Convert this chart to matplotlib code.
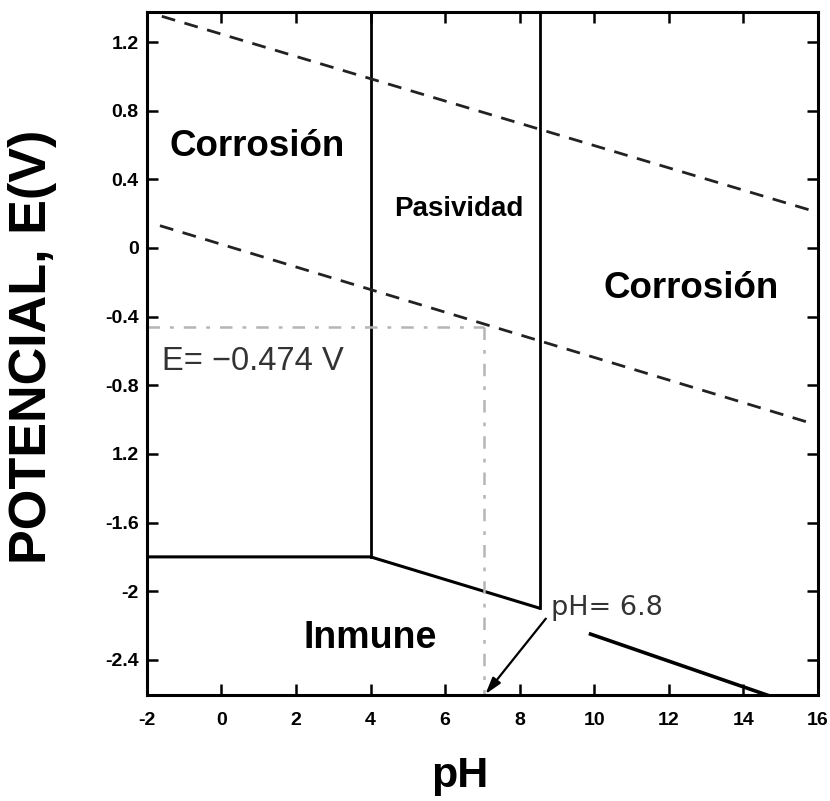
import matplotlib
matplotlib.use("Agg")
import matplotlib.pyplot as plt

plt.rcParams['font.family'] = ['Liberation Sans', 'DejaVu Sans']

# ---- data ----
ph_ticks = [-2, 0, 2, 4, 6, 8, 10, 12, 14, 16]
ph_tick_labels = ['-2', '0', '2', '4', '6', '8', '10', '12', '14', '16']
e_ticks = [1.2, 0.8, 0.4, 0, -0.4, -0.8, -1.2, -1.6, -2, -2.4]
e_tick_labels = ['1.2', '0.8', '0.4', '0', '-0.4', '-0.8', '1.2', '-1.6', '-2', '-2.4']

xlim = (-2, 16)
ylim = (-2.605, 1.375)

# Zn / Zn2+ / Zn(OH)2 boundary
lower_ph = [-2, 4.0, 8.55]
lower_e = [-1.8, -1.8, -2.1]
# vertical boundaries (pH, E bottom)
vert_ph = [4.0, 8.55]
vert_e_bottom = [-1.8, -2.1]
# lower-right boundary
right_ph = [9.9, 14.7]
right_e = [-2.25, -2.61]
# water stability lines
water_up_ph = [-1.6, 15.8]
water_up_e = [1.35, 0.22]
water_low_ph = [-1.65, 15.8]
water_low_e = [0.13, -1.02]
# marked point
mark_ph = 7.05
mark_e = -0.46
# arrow
arrow_start = (8.7, -2.16)
arrow_end = (7.08, -2.6)

fig = plt.figure(figsize=(8.30, 8.01), dpi=100)
ax = fig.add_axes([0.177, 0.1323, 0.8085, 0.8527])
ax.set_xlim(*xlim)
ax.set_ylim(*ylim)

# region boundaries
ax.plot(lower_ph, lower_e, color='black', lw=2.2, solid_capstyle='butt')
for p, eb in zip(vert_ph, vert_e_bottom):
    ax.plot([p, p], [eb, ylim[1]], color='black', lw=2.0)
ax.plot(right_ph, right_e, color='black', lw=2.6)

# water lines
ax.plot(water_up_ph, water_up_e, color='#222222', lw=2.0, linestyle=(0, (5, 3.5)))
ax.plot(water_low_ph, water_low_e, color='#222222', lw=2.0, linestyle=(0, (5, 3.5)))

# marker lines (gray dash-dot)
ax.plot([xlim[0], mark_ph], [mark_e, mark_e], color='#b5b5b5', lw=1.8,
        linestyle=(0, (5, 4, 1.5, 4)))
ax.plot([mark_ph, mark_ph], [mark_e, ylim[0]], color='#b5b5b5', lw=1.8,
        linestyle=(0, (5, 4, 1.5, 4)))

# arrow
ax.annotate('', xy=arrow_end, xytext=arrow_start,
            arrowprops=dict(arrowstyle='-|>,head_length=1.0,head_width=0.3',
                            color='black', lw=1.6, shrinkA=0, shrinkB=0))

# texts
ax.text(0.95, 0.59, 'Corrosión', fontsize=26.5, fontweight='bold', ha='center', va='center')
ax.text(6.36, 0.225, 'Pasividad', fontsize=20, fontweight='bold', ha='center', va='center')
ax.text(12.6, -0.236, 'Corrosión', fontsize=26.5, fontweight='bold', ha='center', va='center')
ax.text(4.0, -2.27, 'Inmune', fontsize=27, fontweight='bold', ha='center', va='center')
ax.text(-1.6, -0.66, 'E= \u22120.474 V', fontsize=23.5, color='#333333', ha='left', va='center')
ax.text(8.85, -2.1, 'pH= 6.8', fontsize=19.5, color='#333333', ha='left', va='center',
        family=['DejaVu Sans'])

# ticks
ax.set_xticks(ph_ticks)
ax.set_xticklabels(ph_tick_labels)
ax.set_yticks(e_ticks)
ax.set_yticklabels(e_tick_labels)
ax.tick_params(direction='in', length=8, width=1.8, top=True, right=True,
               labelsize=14)
ax.tick_params(axis='x', pad=12)
ax.tick_params(axis='y', pad=6)
for lab in ax.get_xticklabels() + ax.get_yticklabels():
    lab.set_fontweight('bold')
for s in ax.spines.values():
    s.set_linewidth(2.2)

ax.set_xlabel('pH', fontsize=31, fontweight='bold')
ax.xaxis.set_label_coords(0.466, -0.089)
ax.set_ylabel('POTENCIAL, E(V)', fontsize=37.5, fontweight='bold')
ax.yaxis.set_label_coords(-0.134, 0.51)

fig.savefig('out.png', dpi=100)
